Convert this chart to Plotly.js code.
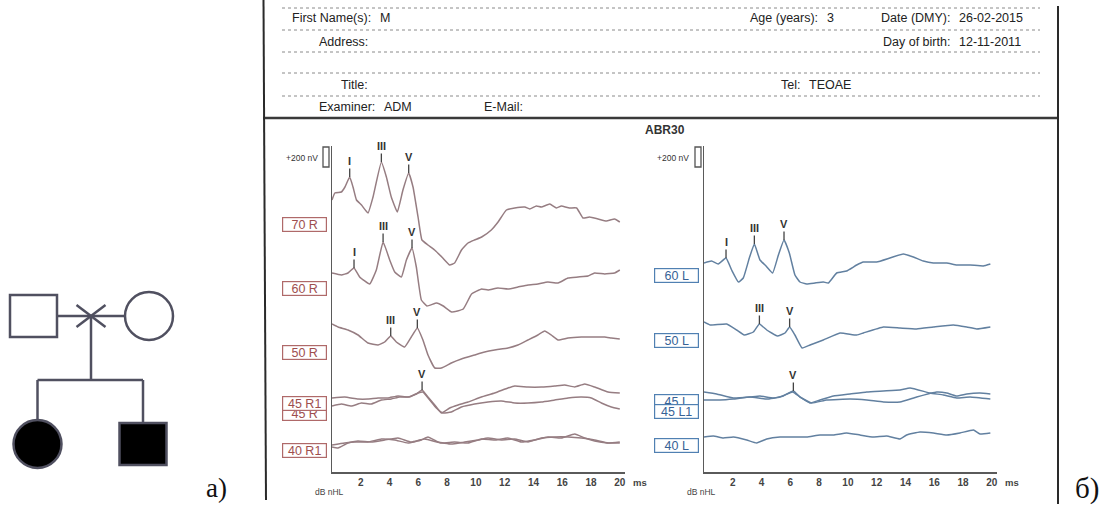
<!DOCTYPE html>
<html>
<head>
<meta charset="utf-8">
<script src="https://cdn.plot.ly/plotly-3.0.1.min.js"></script>
<style>
  html, body { margin: 0; padding: 0; background: #ffffff; }
  #chart { width: 1113px; height: 511px; }
</style>
</head>
<body>
<div id="chart"></div>
<script>
// ---------- ABR recordings: latency (ms) and amplitude (nV) ----------
// Right ear
const r70_t  = [0,0.2,0.65,0.9,1.23,1.46,1.7,2.05,2.5,2.85,3.43,3.78,4.12,4.54,4.93,5.33,5.63,5.98,6.25,6.67,7.13,7.7,8.18,8.52,9.0,9.45,9.9,10.4,11.07,11.54,12.12,12.7,13.4,13.74,14.2,14.55,15.13,15.6,15.94,16.5,17.0,17.44,17.9,18.5,19.07,19.64,20.0];
const r70_nv = [240,310,320,370,470,370,240,190,110,270,620,470,270,120,340,510,370,70,-160,-210,-260,-340,-410,-390,-260,-190,-160,-130,-60,20,140,160,170,150,180,170,200,160,180,160,160,60,70,50,30,50,20];

const r60_t  = [0,0.65,1.11,1.53,1.92,2.62,3.08,3.55,4.01,4.36,4.82,5.17,5.56,5.86,6.21,6.6,7.27,7.73,8.32,9.12,9.7,10.4,10.84,11.53,12.23,12.92,13.62,14.31,15.0,15.71,16.4,17.1,17.79,18.25,18.95,19.64,20];
const r60_nv = [150,130,150,200,110,40,180,460,280,160,110,280,400,210,-120,-180,-150,-180,-240,-210,-60,-10,-20,0,-10,10,30,40,60,50,100,110,120,150,140,150,180];

const r50_t  = [0,0.42,1.11,1.81,2.5,3.2,3.66,4.08,4.47,5.05,5.51,5.93,6.32,6.67,7.14,7.6,8.29,8.99,9.91,10.61,11.3,12.23,12.92,13.62,14.31,14.78,15.24,15.71,16.4,17.33,18.25,18.95,19.41,20];
const r50_nv = [280,250,220,170,90,70,100,160,100,50,150,240,120,-30,-160,-160,-110,-70,-30,0,20,40,70,120,170,210,170,120,140,150,150,150,140,130];

const r45a_t  = [0,0.88,1.81,2.5,3.2,3.89,4.59,5.28,5.86,6.26,6.67,7.14,7.6,8.18,8.76,9.45,10.38,11.3,12.23,12.7,13.62,14.55,15.48,16.17,16.87,17.56,18.25,19.18,20];
const r45a_nv = [50,60,40,40,50,50,70,60,90,130,60,-20,-100,-50,-20,10,60,100,150,170,160,160,170,180,160,190,160,110,100];

const r45b_t  = [0,0.65,1.34,2.04,2.73,3.43,4.12,4.7,5.4,5.98,6.32,6.79,7.25,7.71,8.29,8.99,9.91,10.84,11.76,12.7,13.62,14.55,15.48,16.4,17.33,18.02,18.72,19.41,20];
const r45b_nv = [70,90,70,100,90,130,140,160,160,200,210,130,50,0,10,60,90,110,120,100,100,110,130,150,160,150,100,60,40];

const r40a_t  = [0,0.42,1.11,1.81,2.73,3.66,4.59,5.51,6.44,7.6,8.52,9.45,10.38,11.3,12.23,13.16,14.08,15.01,15.94,16.87,17.56,18.25,19.18,20];
const r40a_nv = [30,20,70,90,80,100,120,80,110,70,80,70,110,100,120,80,100,130,120,160,120,90,70,70];

const r40b_t  = [0,0.88,1.58,2.5,3.43,4.36,5.28,6.21,6.67,7.37,8.29,9.22,10.15,10.84,11.76,12.69,13.62,14.55,15.47,16.4,17.33,18.25,19.18,20];
const r40b_nv = [50,70,80,80,110,100,70,100,130,80,60,80,100,120,100,110,80,120,130,130,120,100,70,80];

// Left ear
const l60_t  = [0,0.53,0.99,1.53,1.92,2.39,2.73,3.15,3.5,3.89,4.31,4.77,5.17,5.56,5.93,6.32,6.67,7.14,7.71,8.29,8.64,9.22,9.91,10.61,11.07,12.0,12.92,13.85,14.55,15.24,15.94,16.87,17.56,18.49,19.41,19.9];
const l60_nv = [120,140,110,170,50,-70,-30,170,310,150,90,20,200,350,220,0,-70,-90,-80,-70,-80,20,40,100,130,130,170,210,180,140,120,120,100,100,90,110];

const l50_t  = [0,0.42,1.58,2.27,2.8,3.43,3.85,4.36,5.1,5.63,5.95,6.32,6.82,7.37,8.29,9.45,10.61,11.07,12.46,13.62,14.78,15.94,17.33,18.26,18.95,19.9];
const l50_nv = [180,150,160,100,50,80,160,100,40,70,130,50,-80,-50,0,70,50,70,130,120,110,130,150,130,110,130];

const l45a_t  = [0,0.88,2.04,3.2,3.89,4.82,5.51,6.21,6.67,7.37,8.06,8.99,10.15,11.31,12.46,13.62,14.32,15.71,16.64,17.56,18.49,19.9];
const l45a_nv = [90,70,30,40,50,30,50,100,40,-20,10,50,70,90,100,110,130,80,60,30,40,20];

const l45b_t  = [0,1.11,2.04,3.2,4.36,5.28,6.16,6.67,7.48,8.52,10.15,11.31,12.46,13.62,14.78,16.17,16.87,17.56,18.26,19.18,19.9];
const l45b_nv = [110,110,120,140,120,140,190,140,80,110,120,110,90,90,140,190,180,150,170,180,170];

const l40_t  = [0,0.65,1.34,2.04,2.97,3.66,4.36,5.28,6.21,7.14,8.06,8.99,9.91,10.84,11.76,12.69,13.62,14.08,15.01,15.94,16.87,17.79,18.72,19.18,19.9];
const l40_nv = [80,90,70,80,50,20,60,80,80,80,100,100,120,100,80,90,60,100,130,120,100,120,150,110,120];

// Wave peak marks
const markTrace   = ['70 R','70 R','70 R','60 R','60 R','60 R','50 R','50 R','45 R1','60 L','60 L','60 L','50 L','50 L','45 L'];
const markWave    = ['I','III','V','I','III','V','III','V','V','I','III','V','III','V','V'];
const markLatency = [1.23,3.43,5.33,1.53,3.55,5.56,4.08,5.93,6.26,1.53,3.5,5.56,3.85,5.95,6.21];

// Time axis ticks
const tickMs = [2,4,6,8,10,12,14,16,18,20];

// Patient record fields
const headerLabels = ['First Name(s):','Address:','Title:','Examiner:','E-Mail:','Age (years):','Date (DMY):','Day of birth:','Tel:'];
const headerValues = ['M','','','ADM','','3','26-02-2015','12-11-2011','TEOAE'];

// Pedigree
const pedMembers  = ['father','mother','daughter','son'];
const pedSex      = ['M','F','F','M'];
const pedAffected = [false,false,true,true];
const pedGen      = [1,1,2,2];

// ---------- page geometry ----------
const W = 1113, H = 511;
const fx = x => x / W;
const fy = y => 1 - y / H;
const AXIS_ROW = 472, TOP_ROW = 146, NV_PER_PX = 10;
const levelOf = row => (AXIS_ROW - row) * NV_PER_PX;   // row on page -> nV on the y scale

// box:false -> second sweep of the same level, its tag sits under the first one
const series = [
  {name:'70 R',  side:'R', t:r70_t,  v:r70_nv,  row:224},
  {name:'60 R',  side:'R', t:r60_t,  v:r60_nv,  row:288},
  {name:'50 R',  side:'R', t:r50_t,  v:r50_nv,  row:352},
  {name:'45 R',  side:'R', t:r45b_t, v:r45b_nv, row:413},
  {name:'45 R1', side:'R', t:r45a_t, v:r45a_nv, row:403},
  {name:'40 R',  side:'R', t:r40b_t, v:r40b_nv, row:450, box:false},
  {name:'40 R1', side:'R', t:r40a_t, v:r40a_nv, row:450},
  {name:'60 L',  side:'L', t:l60_t,  v:l60_nv,  row:275},
  {name:'50 L',  side:'L', t:l50_t,  v:l50_nv,  row:340},
  {name:'45 L',  side:'L', t:l45a_t, v:l45a_nv, row:401},
  {name:'45 L1', side:'L', t:l45b_t, v:l45b_nv, row:411},
  {name:'40 L',  side:'L', t:l40_t,  v:l40_nv,  row:445}
];

const style = {
  R: {line:'rgb(150,125,130)', text:'rgb(158,78,78)',  box:'rgb(175,105,105)', axes:['x','y'],   boxX:304.5},
  L: {line:'rgb(98,128,160)',  text:'rgb(55,98,150)',  box:'rgb(80,128,178)',  axes:['x2','y2'], boxX:676.5}
};

const traces = series.map(s => ({
  type:'scatter', mode:'lines',
  x: s.t,
  y: s.v.map(v => v + levelOf(s.row)),
  xaxis: style[s.side].axes[0], yaxis: style[s.side].axes[1],
  line: {color: style[s.side].line, width: 1.5, shape:'spline', smoothing:0.35},
  hoverinfo:'skip', showlegend:false
}));

// invisible trace so the pedigree axes exist
traces.push({type:'scatter', mode:'markers', x:[0], y:[270], xaxis:'x3', yaxis:'y3',
  marker:{opacity:0}, hoverinfo:'skip', showlegend:false});

function valueAt(s, t) {
  for (let i = 0; i < s.t.length - 1; i++) {
    if (t >= s.t[i] && t <= s.t[i+1]) {
      const f = (t - s.t[i]) / (s.t[i+1] - s.t[i]);
      return s.v[i] + f * (s.v[i+1] - s.v[i]);
    }
  }
  return s.v[s.v.length - 1];
}

const FONT = 'Liberation Sans, Arial, sans-serif';
const annotations = [];
const shapes = [];

function text(x, y, t, o = {}) {
  annotations.push(Object.assign({
    xref:'paper', yref:'paper', x:fx(x), y:fy(y), text:t, showarrow:false,
    xanchor:'center', yanchor:'middle',
    font:{family:FONT, size:12.5, color:'#222'}
  }, o));
}

// ---------- record header ----------
const headerPos = [
  [373,18],[370,42],[370,85],[377,107],[525,107],[820,18],[952,18],[952,42],[802,85]
];
headerLabels.forEach((lab, i) => {
  const [x, y] = headerPos[i];
  text(x, y, lab, {xanchor:'right'});
  if (headerValues[i]) text(x + 5, y, headerValues[i], {xanchor:'left'});
});

[8,30,52,73,96].forEach(r => shapes.push({type:'line', xref:'paper', yref:'paper',
  x0:fx(282), x1:fx(1040), y0:fy(r), y1:fy(r), line:{color:'#8a8a8a', width:1, dash:'dot'}}));
shapes.push({type:'line', xref:'paper', yref:'paper', x0:fx(263), x1:fx(1059), y0:fy(118), y1:fy(118),
  line:{color:'#3a3a3a', width:2.5}});
shapes.push({type:'line', xref:'paper', yref:'paper', x0:fx(263.5), x1:fx(266), y0:fy(0), y1:fy(500),
  line:{color:'#2a2a2a', width:2}});
shapes.push({type:'line', xref:'paper', yref:'paper', x0:fx(1058), x1:fx(1058), y0:fy(6), y1:fy(504),
  line:{color:'#2a2a2a', width:2}});

// ---------- recording panels ----------
text(665, 130, 'ABR30', {font:{family:FONT, size:12, color:'#333', weight:'bold'}});

[['R', 302, 326, 640, 329], ['L', 673, 698, 1012, 701]].forEach(([side, nvX, brX, msX, dbX]) => {
  const ya = style[side].axes[1];
  text(nvX, 158, '+200 nV', {font:{family:FONT, size:8.5, color:'#333'}});
  // 200 nV calibration bracket
  shapes.push({type:'rect', xref:'paper', yref:ya, x0:fx(brX - 3), x1:fx(brX + 3),
    y0:levelOf(167), y1:levelOf(167) + 200, line:{color:'#555', width:1.3}, fillcolor:'rgba(0,0,0,0)'});
  text(msX, 482, 'ms', {font:{family:FONT, size:9.5, color:'#444', weight:'bold'}});
  text(dbX, 492, 'dB nHL', {font:{family:FONT, size:8.5, color:'#444'}});
});

// level tags (the one underneath is drawn first)
series.filter(s => s.box !== false).forEach(s => {
  const st = style[s.side];
  annotations.push({
    xref:'paper', yref:st.axes[1], x:fx(st.boxX), y:levelOf(s.row),
    text:s.name, showarrow:false, xanchor:'center', yanchor:'middle',
    width:41, height:11, borderpad:1, borderwidth:1.2,
    bordercolor:st.box, bgcolor:'#ffffff',
    font:{family:FONT, size:12.5, color:st.text}
  });
});

// wave marks
markTrace.forEach((name, i) => {
  const s = series.find(d => d.name === name);
  const st = style[s.side];
  annotations.push({
    xref:st.axes[0], yref:st.axes[1],
    x:markLatency[i], y:valueAt(s, markLatency[i]) + levelOf(s.row),
    text:markWave[i], showarrow:true, arrowhead:0, arrowwidth:1.3, arrowcolor:'#444',
    ax:0, ay:-16, standoff:0,
    font:{family:FONT, size:11, color:'#333', weight:'bold'}
  });
});

// ---------- pedigree ----------
const PED_LINE = 'rgb(80,80,96)';
const genRow = {1:316, 2:444};
const memberX = {father:33.5, mother:149, daughter:37.5, son:143};
const SQ_W = 23.5, SQ_H = 21, R = 24;
function pedLine(x0, y0, x1, y1) {
  shapes.push({type:'line', xref:'x3', yref:'y3', x0, y0, x1, y1, line:{color:PED_LINE, width:2.5}});
}
const fatherX = memberX.father, motherX = memberX.mother;
const midX = (fatherX + SQ_W + motherX - R) / 2;
pedLine(fatherX + SQ_W, genRow[1], motherX - R, genRow[1]);
pedLine(midX - 14.5, genRow[1] - 11, midX + 14.5, genRow[1] + 11);
pedLine(midX - 14.5, genRow[1] + 11, midX + 14.5, genRow[1] - 11);
const sibRow = 380;
pedLine(midX, genRow[1], midX, sibRow);
const kids = pedMembers.filter((m, i) => pedGen[i] === 2);
pedLine(memberX[kids[0]], sibRow, memberX[kids[kids.length - 1]], sibRow);
pedMembers.forEach((m, i) => {
  const cx = memberX[m], cy = genRow[pedGen[i]];
  const fill = pedAffected[i] ? '#000000' : '#ffffff';
  if (pedGen[i] === 2) pedLine(cx, sibRow, cx, cy - (pedSex[i] === 'M' ? SQ_H : R));
  if (pedSex[i] === 'M') {
    shapes.push({type:'rect', xref:'x3', yref:'y3', x0:cx - SQ_W, x1:cx + SQ_W, y0:cy - SQ_H, y1:cy + SQ_H,
      line:{color:PED_LINE, width:2.5}, fillcolor:fill});
  } else {
    shapes.push({type:'circle', xref:'x3', yref:'y3', x0:cx - R, x1:cx + R, y0:cy - R, y1:cy + R,
      line:{color:PED_LINE, width:2.5}, fillcolor:fill});
  }
});

text(216, 488, 'a)', {font:{family:'Liberation Serif, Times New Roman, serif', size:27, color:'#111'}});
text(1087, 488, 'б)', {font:{family:'Liberation Serif, Times New Roman, serif', size:29, color:'#111'}});

// ---------- axes ----------
const xRange = [0, (625 - 332) / 14.39];
const yRange = [0, levelOf(TOP_ROW)];
const yDomain = [fy(AXIS_ROW), fy(TOP_ROW)];
function xAxis(x0, anchor) {
  return {
    domain:[fx(x0), fx(x0 + 293)], range:xRange, anchor,
    showline:true, linecolor:'#5a5a5a', linewidth:1.5,
    tickmode:'array', tickvals:tickMs, ticks:'', showgrid:false, zeroline:false,
    tickfont:{family:FONT, size:10, color:'#444', weight:'bold'}, fixedrange:true
  };
}
function yAxis(anchor) {
  return {
    domain:yDomain, range:yRange, anchor,
    showline:true, linecolor:'#5a5a5a', linewidth:1.5,
    showticklabels:false, ticks:'', showgrid:false, zeroline:false, fixedrange:true
  };
}

const layout = {
  width:W, height:H,
  margin:{l:0, r:0, t:0, b:0, pad:0},
  paper_bgcolor:'#ffffff', plot_bgcolor:'rgba(0,0,0,0)',
  showlegend:false,
  xaxis: xAxis(332, 'y'),
  yaxis: yAxis('x'),
  xaxis2: xAxis(704, 'y2'),
  yaxis2: yAxis('x2'),
  xaxis3: {domain:[0, fx(240)], range:[0, 240], visible:false, fixedrange:true, anchor:'y3'},
  yaxis3: {domain:[fy(500), fy(270)], range:[500, 270], visible:false, fixedrange:true, anchor:'x3'},
  shapes, annotations
};

Plotly.newPlot('chart', traces, layout, {staticPlot:true, displayModeBar:false});
</script>
</body>
</html>
